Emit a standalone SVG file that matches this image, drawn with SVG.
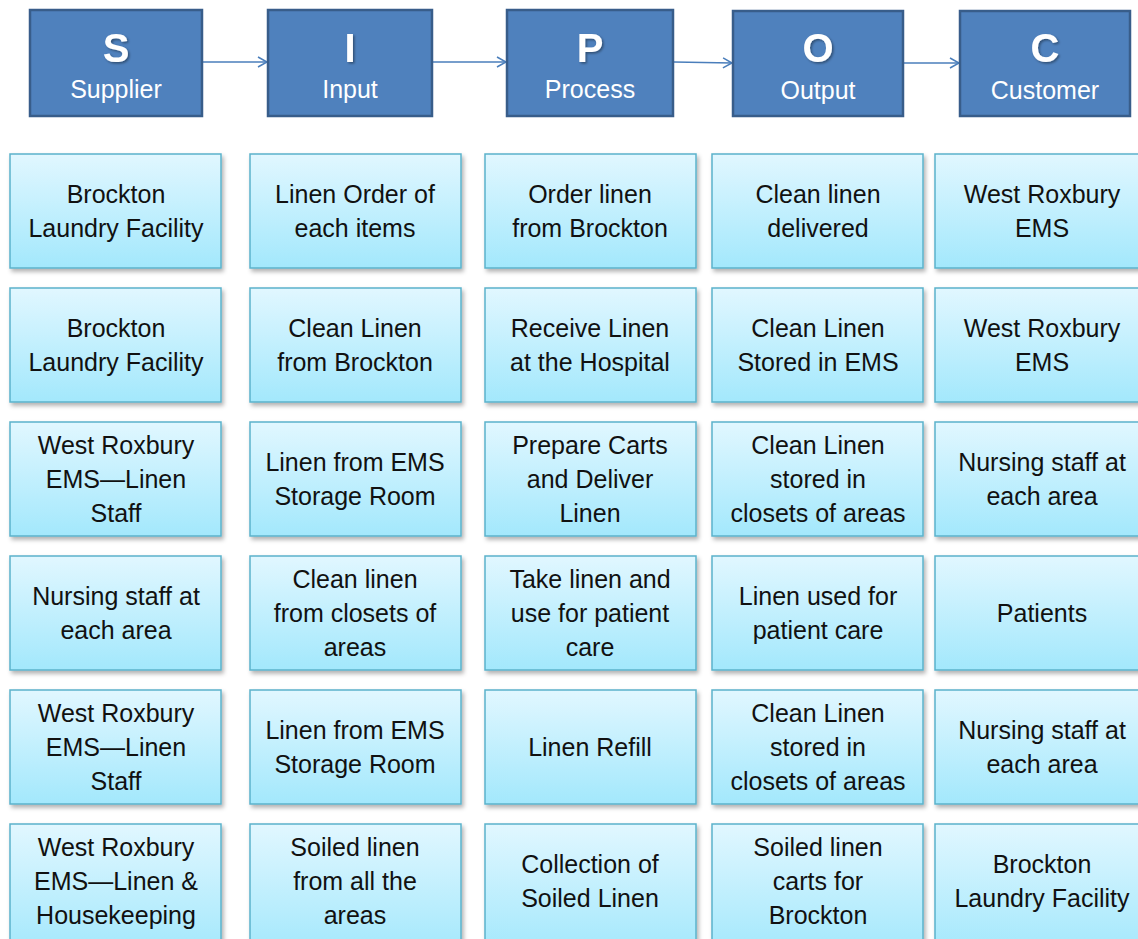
<svg xmlns="http://www.w3.org/2000/svg" width="1138" height="939" viewBox="0 0 1138 939">
<defs>
<linearGradient id="cellGrad" x1="0" y1="0" x2="0" y2="1">
<stop offset="0" stop-color="#E1F7FF"/>
<stop offset="1" stop-color="#A3E8FC"/>
</linearGradient>
<filter id="shadow" x="-5%" y="-5%" width="115%" height="120%">
<feDropShadow dx="2" dy="3" stdDeviation="2" flood-color="#000" flood-opacity="0.3"/>
</filter>
<filter id="tshadow" x="-20%" y="-20%" width="150%" height="150%">
<feDropShadow dx="1.5" dy="1.5" stdDeviation="1" flood-color="#000" flood-opacity="0.4"/>
</filter>
<marker id="arrow" markerWidth="12" markerHeight="12" refX="10" refY="6" orient="auto" markerUnits="userSpaceOnUse">
<path d="M1,1 L10,6 L1,11" fill="none" stroke="#4A7EBB" stroke-width="1.5"/>
</marker>
</defs>
<style>
.hbox{fill:#4F81BD;stroke:#385D8A;stroke-width:2.5}
.hl{font-family:"Liberation Sans",Arial,sans-serif;font-weight:bold;font-size:40px;fill:#FFFFFF;text-anchor:middle}
.hw{font-family:"Liberation Sans",Arial,sans-serif;font-size:25px;fill:#FFFFFF;text-anchor:middle}
.cell{fill:url(#cellGrad);stroke:#5BB3CB;stroke-width:1.5}
.ct{font-family:"Liberation Sans",Arial,sans-serif;font-size:25px;fill:#111111;text-anchor:middle}
.conn{stroke:#4A7EBB;stroke-width:1.5;fill:none}
</style>
<rect width="1138" height="939" fill="#FFFFFF"/>

<g id="connectors">
<line class="conn" x1="203" y1="62" x2="267" y2="62" marker-end="url(#arrow)"/>
<line class="conn" x1="433" y1="62" x2="506" y2="62" marker-end="url(#arrow)"/>
<line class="conn" x1="674" y1="62" x2="732" y2="63" marker-end="url(#arrow)"/>
<line class="conn" x1="904" y1="63" x2="959" y2="63" marker-end="url(#arrow)"/>
</g>

<g id="header-S"><rect class="hbox" x="30" y="10" width="172" height="106"/><text class="hl" x="116" y="62" filter="url(#tshadow)">S</text><text class="hw" x="116" y="98">Supplier</text></g>
<g id="header-I"><rect class="hbox" x="268" y="10" width="164" height="106"/><text class="hl" x="350" y="62" filter="url(#tshadow)">I</text><text class="hw" x="350" y="98">Input</text></g>
<g id="header-P"><rect class="hbox" x="507" y="10" width="166" height="106"/><text class="hl" x="590" y="62" filter="url(#tshadow)">P</text><text class="hw" x="590" y="98">Process</text></g>
<g id="header-O"><rect class="hbox" x="733" y="11" width="170" height="105"/><text class="hl" x="818" y="62" filter="url(#tshadow)">O</text><text class="hw" x="818" y="99">Output</text></g>
<g id="header-C"><rect class="hbox" x="960" y="11" width="170" height="105"/><text class="hl" x="1045" y="62" filter="url(#tshadow)">C</text><text class="hw" x="1045" y="99">Customer</text></g>

<!-- Row 1 -->
<g id="r1c1"><rect class="cell" filter="url(#shadow)" x="10" y="154" width="211" height="114"/><text class="ct" x="116" y="203">Brockton<tspan x="116" dy="34">Laundry Facility</tspan></text></g>
<g id="r1c2"><rect class="cell" filter="url(#shadow)" x="250" y="154" width="211" height="114"/><text class="ct" x="355" y="203">Linen Order of<tspan x="355" dy="34">each items</tspan></text></g>
<g id="r1c3"><rect class="cell" filter="url(#shadow)" x="485" y="154" width="211" height="114"/><text class="ct" x="590" y="203">Order linen<tspan x="590" dy="34">from Brockton</tspan></text></g>
<g id="r1c4"><rect class="cell" filter="url(#shadow)" x="712" y="154" width="211" height="114"/><text class="ct" x="818" y="203">Clean linen<tspan x="818" dy="34">delivered</tspan></text></g>
<g id="r1c5"><rect class="cell" filter="url(#shadow)" x="935" y="154" width="211" height="114"/><text class="ct" x="1042" y="203">West Roxbury<tspan x="1042" dy="34">EMS</tspan></text></g>

<!-- Row 2 -->
<g id="r2c1"><rect class="cell" filter="url(#shadow)" x="10" y="288" width="211" height="114"/><text class="ct" x="116" y="337">Brockton<tspan x="116" dy="34">Laundry Facility</tspan></text></g>
<g id="r2c2"><rect class="cell" filter="url(#shadow)" x="250" y="288" width="211" height="114"/><text class="ct" x="355" y="337">Clean Linen<tspan x="355" dy="34">from Brockton</tspan></text></g>
<g id="r2c3"><rect class="cell" filter="url(#shadow)" x="485" y="288" width="211" height="114"/><text class="ct" x="590" y="337">Receive Linen<tspan x="590" dy="34">at the Hospital</tspan></text></g>
<g id="r2c4"><rect class="cell" filter="url(#shadow)" x="712" y="288" width="211" height="114"/><text class="ct" x="818" y="337">Clean Linen<tspan x="818" dy="34">Stored in EMS</tspan></text></g>
<g id="r2c5"><rect class="cell" filter="url(#shadow)" x="935" y="288" width="211" height="114"/><text class="ct" x="1042" y="337">West Roxbury<tspan x="1042" dy="34">EMS</tspan></text></g>

<!-- Row 3 -->
<g id="r3c1"><rect class="cell" filter="url(#shadow)" x="10" y="422" width="211" height="114"/><text class="ct" x="116" y="454">West Roxbury<tspan x="116" dy="34">EMS—Linen</tspan><tspan x="116" dy="34">Staff</tspan></text></g>
<g id="r3c2"><rect class="cell" filter="url(#shadow)" x="250" y="422" width="211" height="114"/><text class="ct" x="355" y="471">Linen from EMS<tspan x="355" dy="34">Storage Room</tspan></text></g>
<g id="r3c3"><rect class="cell" filter="url(#shadow)" x="485" y="422" width="211" height="114"/><text class="ct" x="590" y="454">Prepare Carts<tspan x="590" dy="34">and Deliver</tspan><tspan x="590" dy="34">Linen</tspan></text></g>
<g id="r3c4"><rect class="cell" filter="url(#shadow)" x="712" y="422" width="211" height="114"/><text class="ct" x="818" y="454">Clean Linen<tspan x="818" dy="34">stored in</tspan><tspan x="818" dy="34">closets of areas</tspan></text></g>
<g id="r3c5"><rect class="cell" filter="url(#shadow)" x="935" y="422" width="211" height="114"/><text class="ct" x="1042" y="471">Nursing staff at<tspan x="1042" dy="34">each area</tspan></text></g>

<!-- Row 4 -->
<g id="r4c1"><rect class="cell" filter="url(#shadow)" x="10" y="556" width="211" height="114"/><text class="ct" x="116" y="605">Nursing staff at<tspan x="116" dy="34">each area</tspan></text></g>
<g id="r4c2"><rect class="cell" filter="url(#shadow)" x="250" y="556" width="211" height="114"/><text class="ct" x="355" y="588">Clean linen<tspan x="355" dy="34">from closets of</tspan><tspan x="355" dy="34">areas</tspan></text></g>
<g id="r4c3"><rect class="cell" filter="url(#shadow)" x="485" y="556" width="211" height="114"/><text class="ct" x="590" y="588">Take linen and<tspan x="590" dy="34">use for patient</tspan><tspan x="590" dy="34">care</tspan></text></g>
<g id="r4c4"><rect class="cell" filter="url(#shadow)" x="712" y="556" width="211" height="114"/><text class="ct" x="818" y="605">Linen used for<tspan x="818" dy="34">patient care</tspan></text></g>
<g id="r4c5"><rect class="cell" filter="url(#shadow)" x="935" y="556" width="211" height="114"/><text class="ct" x="1042" y="622">Patients</text></g>

<!-- Row 5 -->
<g id="r5c1"><rect class="cell" filter="url(#shadow)" x="10" y="690" width="211" height="114"/><text class="ct" x="116" y="722">West Roxbury<tspan x="116" dy="34">EMS—Linen</tspan><tspan x="116" dy="34">Staff</tspan></text></g>
<g id="r5c2"><rect class="cell" filter="url(#shadow)" x="250" y="690" width="211" height="114"/><text class="ct" x="355" y="739">Linen from EMS<tspan x="355" dy="34">Storage Room</tspan></text></g>
<g id="r5c3"><rect class="cell" filter="url(#shadow)" x="485" y="690" width="211" height="114"/><text class="ct" x="590" y="756">Linen Refill</text></g>
<g id="r5c4"><rect class="cell" filter="url(#shadow)" x="712" y="690" width="211" height="114"/><text class="ct" x="818" y="722">Clean Linen<tspan x="818" dy="34">stored in</tspan><tspan x="818" dy="34">closets of areas</tspan></text></g>
<g id="r5c5"><rect class="cell" filter="url(#shadow)" x="935" y="690" width="211" height="114"/><text class="ct" x="1042" y="739">Nursing staff at<tspan x="1042" dy="34">each area</tspan></text></g>

<!-- Row 6 -->
<g id="r6c1"><rect class="cell" filter="url(#shadow)" x="10" y="824" width="211" height="130"/><text class="ct" x="116" y="856">West Roxbury<tspan x="116" dy="34">EMS—Linen &amp;</tspan><tspan x="116" dy="34">Housekeeping</tspan></text></g>
<g id="r6c2"><rect class="cell" filter="url(#shadow)" x="250" y="824" width="211" height="130"/><text class="ct" x="355" y="856">Soiled linen<tspan x="355" dy="34">from all the</tspan><tspan x="355" dy="34">areas</tspan></text></g>
<g id="r6c3"><rect class="cell" filter="url(#shadow)" x="485" y="824" width="211" height="130"/><text class="ct" x="590" y="873">Collection of<tspan x="590" dy="34">Soiled Linen</tspan></text></g>
<g id="r6c4"><rect class="cell" filter="url(#shadow)" x="712" y="824" width="211" height="130"/><text class="ct" x="818" y="856">Soiled linen<tspan x="818" dy="34">carts for</tspan><tspan x="818" dy="34">Brockton</tspan></text></g>
<g id="r6c5"><rect class="cell" filter="url(#shadow)" x="935" y="824" width="211" height="130"/><text class="ct" x="1042" y="873">Brockton<tspan x="1042" dy="34">Laundry Facility</tspan></text></g>
</svg>
